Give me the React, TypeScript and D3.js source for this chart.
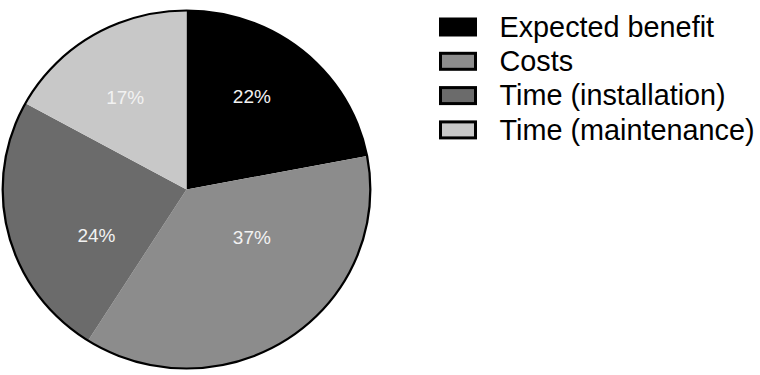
import React from "react";
import * as d3 from "d3";

const categories = ["Expected benefit", "Costs", "Time (installation)", "Time (maintenance)"];
const values = [22, 37, 24, 17];
const labels = ["22%", "37%", "24%", "17%"];

// styling
const colors = ["#000000", "#8c8c8c", "#6b6b6b", "#c8c8c8"];
const labelAngleShift = [-4.6, -19.6, -12.5, -2.9]; // degrees
const labelRadius = [114, 81, 101, 111];

const W = 760;
const H = 375;
const cx = 186.5;
const cy = 189.5;
const R = 179;
const sx = 1.027;

export default function App() {
  const pie = d3.pie<number>().sort(null).value((d) => d)(values);
  const arc = d3.arc<d3.PieArcDatum<number>>().innerRadius(0).outerRadius(R);

  return (
    <svg width={W} height={H} style={{ position: "absolute", left: 0, top: 0, background: "#fff" }}
      fontFamily="'Liberation Sans', Arial, sans-serif">
      <g transform={`translate(${cx},${cy}) scale(${sx},1)`}>
        {pie.map((p, i) => (
          <path key={i} d={arc(p) || ""} fill={colors[i]} />
        ))}
        <circle r={R} fill="none" stroke="#000" strokeWidth={2.2} />
      </g>
      {pie.map((p, i) => {
        const mid = (p.startAngle + p.endAngle) / 2 + (labelAngleShift[i] * Math.PI) / 180;
        const x = cx + labelRadius[i] * Math.sin(mid);
        const y = cy - labelRadius[i] * Math.cos(mid);
        return (
          <text key={i} x={x} y={y} dy="0.35em" textAnchor="middle" fontSize={19} fill="#f2f2f2">
            {labels[i]}
          </text>
        );
      })}
      <g>
        {categories.map((c, i) => {
          const rowY = 27 + i * 34.3;
          return (
            <g key={c}>
              <rect x={440.5} y={rowY - 8} width={35} height={16} fill={colors[i]} stroke="#000" strokeWidth={3} />
              <text x={499.5} y={rowY + 9.8} fontSize={28.8} fill="#000">
                {c}
              </text>
            </g>
          );
        })}
      </g>
    </svg>
  );
}
